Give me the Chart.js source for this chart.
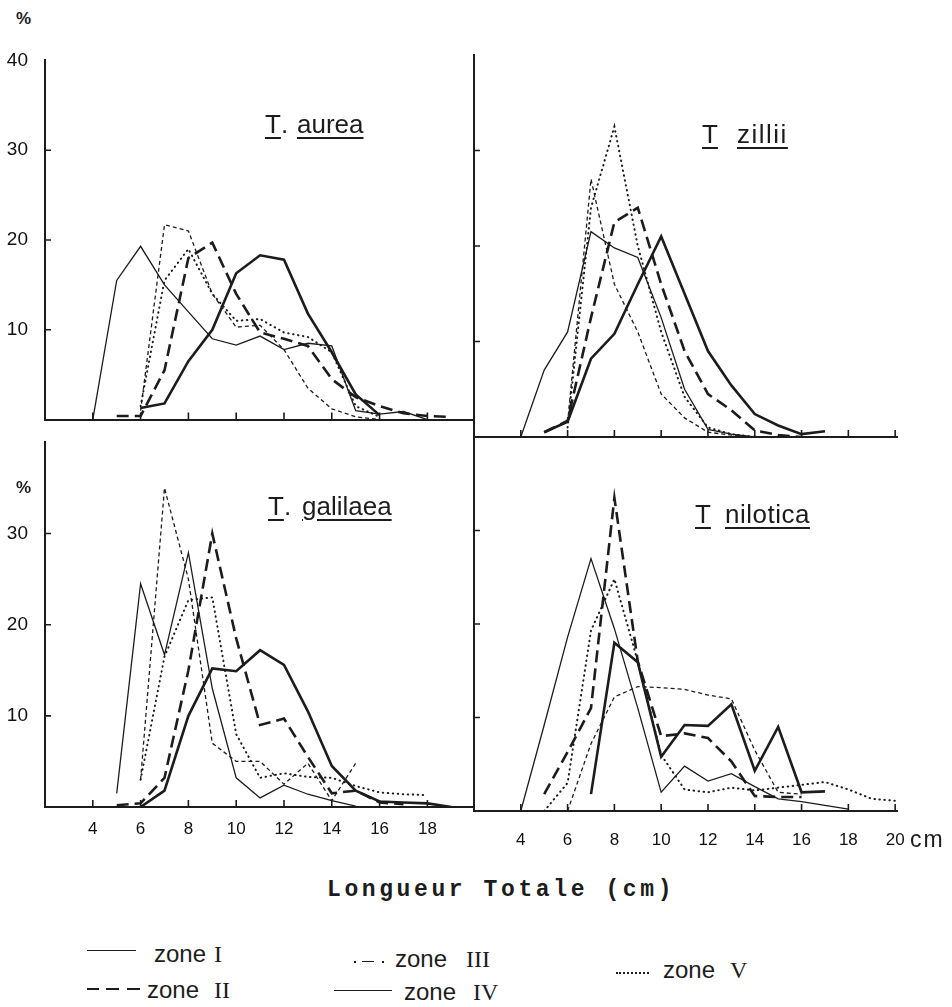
<!DOCTYPE html>
<html>
<head>
<meta charset="utf-8">
<script src="https://cdn.jsdelivr.net/npm/chart.js@4.4.1/dist/chart.umd.min.js"></script>
<style>
  body { margin: 0; width: 952px; height: 1007px; position: relative; overflow: hidden; background: #fff; color: #1c1c1c; font-family: "Liberation Sans", sans-serif; }
  canvas { position: absolute; }
  .t { position: absolute; white-space: nowrap; line-height: 1; }
  .title { font-size: 26px; }
  .title u { text-decoration-thickness: 1.5px; text-underline-offset: 4px; }
  .zone { font-size: 24px; }
  .num { font-family: "Liberation Serif", serif; font-size: 24px; }
  .ln { position: absolute; background: #1c1c1c; }
</style>
</head>
<body>

<canvas id="tl" width="476" height="400" style="left:0;top:40px"></canvas>
<canvas id="tr" width="480" height="400" style="left:429px;top:40px"></canvas>
<canvas id="bl" width="476" height="440" style="left:0;top:422px"></canvas>
<canvas id="br" width="523" height="440" style="left:429px;top:422px"></canvas>

<!-- y unit labels -->
<div class="t" style="left:16px;top:10px;font-size:17px;font-weight:bold">%</div>
<div class="t" style="left:16px;top:479px;font-size:17px;font-weight:bold">%</div>
<div class="t" style="left:910px;top:828px;font-size:23px;letter-spacing:2px">cm</div>

<!-- panel titles -->
<div class="t title" style="left:265px;top:111px"><u>T</u></div>
<div class="t title" style="left:281px;top:111px">.</div>
<div class="t title" style="left:297px;top:111px"><u>aurea</u></div>

<div class="t title" style="left:702px;top:121px"><u>T</u></div>
<div class="t title" style="left:737px;top:121px;letter-spacing:1.5px"><u>zillii</u></div>

<div class="t title" style="left:268px;top:493px"><u>T</u></div>
<div class="t title" style="left:284px;top:493px">.</div>
<div class="t title" style="left:302px;top:493px"><u>galilaea</u></div>

<div class="t title" style="left:695px;top:501px"><u>T</u></div>
<div class="t title" style="left:725px;top:501px;letter-spacing:0.5px"><u>nilotica</u></div>

<!-- x axis title -->
<div class="t" style="left:327px;top:879px;font-family:'Liberation Mono',monospace;font-weight:bold;font-size:23px;letter-spacing:3.6px">Longueur Totale (cm)</div>

<!-- legend -->
<div class="ln" style="left:87px;top:950px;width:49px;height:1.4px"></div>
<div class="t zone" style="left:154px;top:942px">zone</div>
<div class="t num" style="left:214px;top:942px">I</div>

<div class="ln" style="left:87px;top:988px;width:12px;height:2.4px"></div>
<div class="ln" style="left:106px;top:988px;width:13px;height:2.4px"></div>
<div class="ln" style="left:127px;top:988px;width:13px;height:2.4px"></div>
<div class="t zone" style="left:147px;top:978px">zone</div>
<div class="t num" style="left:214px;top:978px">II</div>

<div class="ln" style="left:354px;top:961px;width:2px;height:1.6px"></div>
<div class="ln" style="left:362px;top:961px;width:12px;height:1.4px"></div>
<div class="ln" style="left:382px;top:961px;width:2px;height:1.6px"></div>
<div class="t zone" style="left:395px;top:947px">zone</div>
<div class="t num" style="left:466px;top:947px">III</div>

<div class="ln" style="left:334px;top:990px;width:58px;height:1.4px"></div>
<div class="t zone" style="left:404px;top:980px">zone</div>
<div class="t num" style="left:473px;top:980px">IV</div>

<div style="position:absolute;left:616px;top:972px;width:33px;border-top:2px dotted #1c1c1c"></div>
<div class="t zone" style="left:663px;top:958px">zone</div>
<div class="t num" style="left:730px;top:958px">V</div>

<script>
// length classes (cm), one value per class in every series
const LENGTHS = [4, 5, 6, 7, 8, 9, 10, 11, 12, 13, 14, 15, 16, 17, 18, 19, 20];
const X_TICKS = [4, 6, 8, 10, 12, 14, 16, 18, 20];
const Y_TICKS = [10, 20, 30, 40];
const ZONES = ["zone I", "zone II", "zone III", "zone IV", "zone V"];

// T. aurea
const aureaI   = [0, 15.5, 19.3, 15, 12, 9, 8.3, 9.3, 7.8, 8.5, 8.2, 1, 0.6, 0.9, 0, null, null];
const aureaII  = [null, 0.4, 0.4, 5.5, 18, 19.7, 14, 9.7, 9, 8.2, 4.5, 2.5, 1.5, 0.7, 0.4, 0.3, null];
const aureaIII = [null, null, 1, 21.7, 21, 14, 10.3, 10.5, 7.8, 3.5, 1.2, 0.3, 0, null, null, null, null];
const aureaIV  = [null, null, 1.3, 1.8, 6.5, 10, 16.3, 18.3, 17.8, 11.8, 7.5, 2.8, 0.5, null, null, null, null];
const aureaV   = [null, null, 1.5, 15.5, 19, 14, 11, 11.2, 9.7, 9.2, 7.5, 1.5, 0.3, null, null, null, null];

// T. zillii
const zilliiI   = [0, 7, 11, 21.5, 19.8, 18.8, 12.5, 5, 0.8, 0.3, 0, null, null, null, null, null, null];
const zilliiII  = [null, 0.5, 1.7, 12.5, 22.5, 24, 16, 9, 4.5, 2.8, 0.7, 0.2, 0, null, null, null, null];
const zilliiIII = [null, null, 1.5, 27, 16, 11, 4.5, 2, 0.5, 0.2, 0, null, null, null, null, null, null];
const zilliiIV  = [null, 0.5, 1.6, 8.2, 10.8, 16, 21, 15, 9, 5.4, 2.4, 1.2, 0.3, 0.6, null, null, null];
const zilliiV   = [null, null, 1, 24, 32.5, 20, 11, 4.2, 1, 0.3, 0, null, null, null, null, null, null];

// T. galilaea
const galilaeaI   = [null, 1.5, 24.5, 16.7, 27.9, 13, 3.2, 1, 2.4, 1.4, 0.7, 0.1, null, null, null, null, null];
const galilaeaII  = [null, 0.2, 0.4, 3.2, 15, 30, 18.5, 9, 9.7, 5.5, 1.5, 1.8, 0.5, 0.3, null, null, null];
const galilaeaIII = [null, null, 3, 35, 25, 7, 5, 5, 2.5, 4.8, 0.7, 4.8, null, null, null, null, null];
const galilaeaIV  = [null, null, 0, 1.8, 10, 15.2, 14.9, 17.2, 15.6, 10.5, 4.5, 1.8, 0.6, 0.5, 0.4, 0, null];
const galilaeaV   = [null, null, 3, 16.5, 22.7, 23, 8, 3.2, 3.7, 3.3, 3.2, 2.3, 1.6, 1.4, 1.3, null, null];

// T. nilotica
const niloticaI   = [0, 9.2, 18.6, 27, 19.5, 11, 2, 4.8, 3.2, 4, 2.6, 1.3, 1, 0.6, 0.2, null, null];
const niloticaII  = [null, 1.8, 6.3, 11, 33.5, 16, 8, 8.3, 7.8, 5.3, 1.6, 1.5, 1.5, null, null, null, null];
const niloticaIII = [null, null, 0, 7.2, 12.2, 13.3, 13.2, 13, 12.4, 12, 6.5, 2, 1.8, null, null, null, null];
const niloticaIV  = [null, null, null, 1.8, 18, 15.9, 5.8, 9.2, 9.1, 11.4, 4.3, 9, 2, 2.1, null, null, null];
const niloticaV   = [null, 0, 3, 19.3, 24.8, 16, 6, 2.3, 2, 2.5, 2.2, 2.5, 2.8, 3.1, 2.3, 1.3, 1.1];

const INK = "#1c1c1c";

// line style per zone
const STYLES = [
  { borderWidth: 1.3, borderDash: [] },
  { borderWidth: 2.6, borderDash: [12, 6] },
  { borderWidth: 1.3, borderDash: [4, 3] },
  { borderWidth: 2.6, borderDash: [] },
  { borderWidth: 2, borderDash: [0.5, 4.5], borderCapStyle: "round" },
];

function points(values) {
  return LENGTHS.map((x, i) => ({ x: x, y: values[i] }));
}

// small tick marks pointing into the plot
const inwardTicks = {
  id: "inwardTicks",
  afterDraw(chart) {
    const ctx = chart.ctx;
    const a = chart.chartArea;
    const x = chart.scales.x, y = chart.scales.y;
    ctx.save();
    ctx.strokeStyle = INK;
    ctx.lineWidth = 1.6;
    ctx.beginPath();
    X_TICKS.filter(v => v <= x.max).forEach(v => {
      const p = x.getPixelForValue(v);
      ctx.moveTo(p, a.bottom);
      ctx.lineTo(p, a.bottom - 7);
    });
    [10, 20, 30].forEach(v => {
      const p = y.getPixelForValue(v);
      ctx.moveTo(a.left, p);
      ctx.lineTo(a.left + 6, p);
    });
    ctx.stroke();
    ctx.restore();
  }
};

// c = canvas box, p = plot box (page pixels)
function makePanel(id, c, p, xMax, opt, series) {
  new Chart(document.getElementById(id), {
    type: "line",
    data: {
      datasets: series.map((vals, i) => Object.assign({
        label: ZONES[i],
        data: points(vals),
        borderColor: INK,
        pointRadius: 0,
        tension: 0,
        fill: false,
      }, STYLES[i]))
    },
    options: {
      responsive: false,
      animation: false,
      events: [],
      layout: { padding: { left: 0, top: p.top - c.top, right: c.left + c.w - p.right, bottom: 0 } },
      plugins: { legend: { display: false }, tooltip: { enabled: false } },
      scales: {
        x: {
          type: "linear", min: 2, max: xMax,
          grid: { display: false },
          border: { display: true, color: INK, width: 2 },
          afterFit(s) { s.height = c.top + c.h - p.bottom; },
          afterBuildTicks(s) { s.ticks = opt.xLabels ? X_TICKS.filter(v => v <= xMax).map(v => ({ value: v })) : []; },
          ticks: {
            display: !!opt.xLabels, padding: opt.xPad || 0, color: "#111",
            maxRotation: 0, autoSkip: false,
            font: { family: "Liberation Sans", size: 17 }
          }
        },
        y: {
          type: "linear", min: 0, max: 40,
          grid: { display: false },
          border: { display: true, color: INK, width: 2 },
          afterFit(s) { s.width = p.left - c.left; },
          afterBuildTicks(s) { s.ticks = (opt.yLabels || []).map(v => ({ value: v })); },
          ticks: {
            display: !!opt.yLabels, padding: 9, color: "#111",
            font: { family: "Liberation Sans", size: 19 }
          }
        }
      }
    },
    plugins: [inwardTicks]
  });
}

makePanel("tl", { left: 0, top: 40, w: 476, h: 400 }, { left: 45, top: 55, right: 474, bottom: 437 }, 19.95,
  { yLabels: Y_TICKS }, [aureaI, aureaII, aureaIII, aureaIV, aureaV]);
makePanel("tr", { left: 429, top: 40, w: 480, h: 400 }, { left: 474, top: 55, right: 897.5, bottom: 437 }, 20.1,
  {}, [zilliiI, zilliiII, zilliiIII, zilliiIV, zilliiV]);
makePanel("bl", { left: 0, top: 422, w: 476, h: 440 }, { left: 45, top: 437, right: 474, bottom: 807 }, 19.95,
  { yLabels: [10, 20, 30], xLabels: true, xPad: 4 }, [galilaeaI, galilaeaII, galilaeaIII, galilaeaIV, galilaeaV]);
makePanel("br", { left: 429, top: 422, w: 523, h: 440 }, { left: 474, top: 437, right: 897.5, bottom: 811 }, 20.1,
  { xLabels: true, xPad: 11 }, [niloticaI, niloticaII, niloticaIII, niloticaIV, niloticaV]);
</script>
</body>
</html>
